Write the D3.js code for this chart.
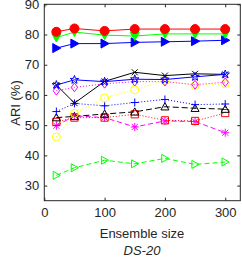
<html>
  <head>
    <style>
      body { margin: 0; background: #fff; }
      text { font-family: "Liberation Sans", Arial, sans-serif; fill: #262626; }
      .axis path, .axis line { stroke: #262626; }
    </style>
  </head>
  <body>
    <script src="https://d3js.org/d3.v7.min.js"></script>
    <script>
    var width = 242, height = 258;

    // ensemble sizes
    var sizes = [20, 50, 100, 150, 200, 250, 300];

    // ARI (%) per method
    var redCircle    = [80.9, 82.0, 81.2, 81.8, 81.8, 81.8, 81.8];
    var greenDown    = [79.0, 80.8, 79.8, 79.5, 80.2, 80.2, 80.2];
    var blueRight    = [75.5, 77.0, 77.0, 77.4, 77.6, 77.8, 78.1];
    var blackX       = [63.3, 57.3, 64.5, 67.5, 66.4, 67.0, 66.8];
    var blueStar     = [63.3, 65.0, 64.4, 65.2, 65.1, 66.0, 66.8];
    var magDiamond   = [61.4, 62.5, 63.7, 64.4, 64.4, 63.4, 64.2];
    var yellowCircle = [46.1, 53.9, 59.0, 61.7, 64.8, 63.1, 63.7];
    var bluePlus     = [54.5, 57.2, 56.4, 57.5, 58.5, 56.8, 57.0];
    var blackTri     = [52.5, 52.9, 53.7, 54.4, 56.1, 55.6, 55.3];
    var redSquare    = [51.1, 52.5, 52.5, 53.6, 51.6, 51.4, 54.0];
    var magStar      = [49.8, 53.1, 52.5, 49.4, 51.4, 51.2, 47.5];
    var greenRight   = [33.4, 35.9, 38.4, 37.2, 39.0, 37.0, 37.8];

    var xTicks = [0, 100, 200, 300];
    var yTicks = [30, 40, 50, 60, 70, 80, 90];

    var series = [
      {v: greenRight,   color: "#00ff00", dash: "5,3", marker: "right", fill: false},
      {v: magStar,      color: "#ff00ff", dash: "5,3", marker: "asterisk", fill: false},
      {v: redSquare,    color: "#ff0000", dash: "1,2", marker: "square", fill: false},
      {v: blackTri,     color: "#000000", dash: "6,3", marker: "up", fill: false},
      {v: bluePlus,     color: "#0000ff", dash: "1,2", marker: "plus", fill: false},
      {v: yellowCircle, color: "#ffff00", dash: "1,2", marker: "circle", fill: false},
      {v: magDiamond,   color: "#ff00ff", dash: "1,2", marker: "diamond", fill: false},
      {v: blackX,       color: "#000000", dash: null,  marker: "x", fill: false},
      {v: blueStar,     color: "#0000ff", dash: null,  marker: "pentagram", fill: false},
      {v: blueRight,    color: "#0000ff", dash: null,  marker: "right", fill: true},
      {v: greenDown,    color: "#00ff00", dash: null,  marker: "down", fill: true},
      {v: redCircle,    color: "#ff0000", dash: null,  marker: "circle", fill: true}
    ];

    var x = d3.scaleLinear().domain([0, 325]).range([44.3, 240.3]);
    var y = d3.scaleLinear().domain([25, 90]).range([200.7, 4.3]);

    var svg = d3.select("body").append("svg")
        .attr("width", width)
        .attr("height", height);

    // marker path around 0,0
    function markerPath(type, s) {
      var p = d3.path();
      if (type == "circle") {
        p.arc(0, 0, s, 0, 2 * Math.PI);
      } else if (type == "square") {
        p.rect(-s * 0.9, -s * 0.9, s * 1.8, s * 1.8);
      } else if (type == "diamond") {
        p.moveTo(0, -s * 1.1); p.lineTo(s * 0.8, 0); p.lineTo(0, s * 1.1); p.lineTo(-s * 0.8, 0); p.closePath();
      } else if (type == "up") {
        p.moveTo(0, -s); p.lineTo(s, s * 0.8); p.lineTo(-s, s * 0.8); p.closePath();
      } else if (type == "down") {
        p.moveTo(0, s); p.lineTo(s, -s * 0.8); p.lineTo(-s, -s * 0.8); p.closePath();
      } else if (type == "right") {
        p.moveTo(s, 0); p.lineTo(-s * 0.8, -s); p.lineTo(-s * 0.8, s); p.closePath();
      } else if (type == "plus") {
        p.moveTo(-s, 0); p.lineTo(s, 0); p.moveTo(0, -s); p.lineTo(0, s);
      } else if (type == "x") {
        var k = s * 0.75;
        p.moveTo(-k, -k); p.lineTo(k, k); p.moveTo(-k, k); p.lineTo(k, -k);
      } else if (type == "asterisk") {
        var a = s * 0.75;
        p.moveTo(-s, 0); p.lineTo(s, 0); p.moveTo(0, -s); p.lineTo(0, s);
        p.moveTo(-a, -a); p.lineTo(a, a); p.moveTo(-a, a); p.lineTo(a, -a);
      } else if (type == "pentagram") {
        for (var i = 0; i < 10; i++) {
          var r = i % 2 == 0 ? s * 1.1 : s * 0.45;
          var ang = -Math.PI / 2 + i * Math.PI / 5;
          if (i == 0) p.moveTo(r * Math.cos(ang), r * Math.sin(ang));
          else p.lineTo(r * Math.cos(ang), r * Math.sin(ang));
        }
        p.closePath();
      }
      return p.toString();
    }

    // box
    svg.append("rect")
        .attr("x", x.range()[0]).attr("y", y.range()[1])
        .attr("width", x.range()[1] - x.range()[0])
        .attr("height", y.range()[0] - y.range()[1])
        .attr("fill", "none").attr("stroke", "#262626");

    var plot = svg.append("g");

    var line = d3.line()
        .x(function(d) { return x(d[0]); })
        .y(function(d) { return y(d[1]); });

    series.forEach(function(s) {
      var pts = sizes.map(function(v, i) { return [v, s.v[i]]; });
      plot.append("path")
          .attr("d", line(pts))
          .attr("fill", "none")
          .attr("stroke", s.color)
          .attr("stroke-width", 1)
          .attr("stroke-dasharray", s.dash);
      var sz = s.fill ? 4.5 : 4;
      plot.selectAll(null)
          .data(pts)
          .enter().append("path")
          .attr("transform", function(d) { return "translate(" + x(d[0]) + "," + y(d[1]) + ")"; })
          .attr("d", markerPath(s.marker, sz))
          .attr("fill", s.fill ? s.color : "none")
          .attr("stroke", s.color)
          .attr("stroke-width", 1);
    });

    // axes, ticks pointing inward
    svg.append("g").attr("class", "axis")
        .attr("transform", "translate(0," + y.range()[0] + ")")
        .call(d3.axisBottom(x).tickValues(xTicks).tickSize(-3).tickPadding(7))
        .call(function(g) { g.select(".domain").remove(); })
        .selectAll("text").attr("font-size", 13).style("font-family", "Liberation Sans, Arial");

    svg.append("g").attr("class", "axis")
        .attr("transform", "translate(0," + y.range()[1] + ")")
        .call(d3.axisTop(x).tickValues(xTicks).tickSize(-3).tickFormat(""))
        .call(function(g) { g.select(".domain").remove(); });

    svg.append("g").attr("class", "axis")
        .attr("transform", "translate(" + x.range()[0] + ",0)")
        .call(d3.axisLeft(y).tickValues(yTicks).tickSize(-3).tickPadding(5))
        .call(function(g) { g.select(".domain").remove(); })
        .selectAll("text").attr("font-size", 13).style("font-family", "Liberation Sans, Arial");

    svg.append("g").attr("class", "axis")
        .attr("transform", "translate(" + x.range()[1] + ",0)")
        .call(d3.axisRight(y).tickValues(yTicks).tickSize(-3).tickFormat(""))
        .call(function(g) { g.select(".domain").remove(); });

    svg.append("text")
        .attr("x", 142).attr("y", 238)
        .attr("text-anchor", "middle")
        .attr("font-size", 13)
        .text("Ensemble size");

    svg.append("text")
        .attr("transform", "translate(20,103) rotate(-90)")
        .attr("text-anchor", "middle")
        .attr("font-size", 13)
        .text("ARI (%)");

    svg.append("text")
        .attr("x", 142).attr("y", 255)
        .attr("text-anchor", "middle")
        .attr("font-size", 13)
        .attr("font-style", "italic")
        .text("DS-20");
    </script>
  </body>
</html>
